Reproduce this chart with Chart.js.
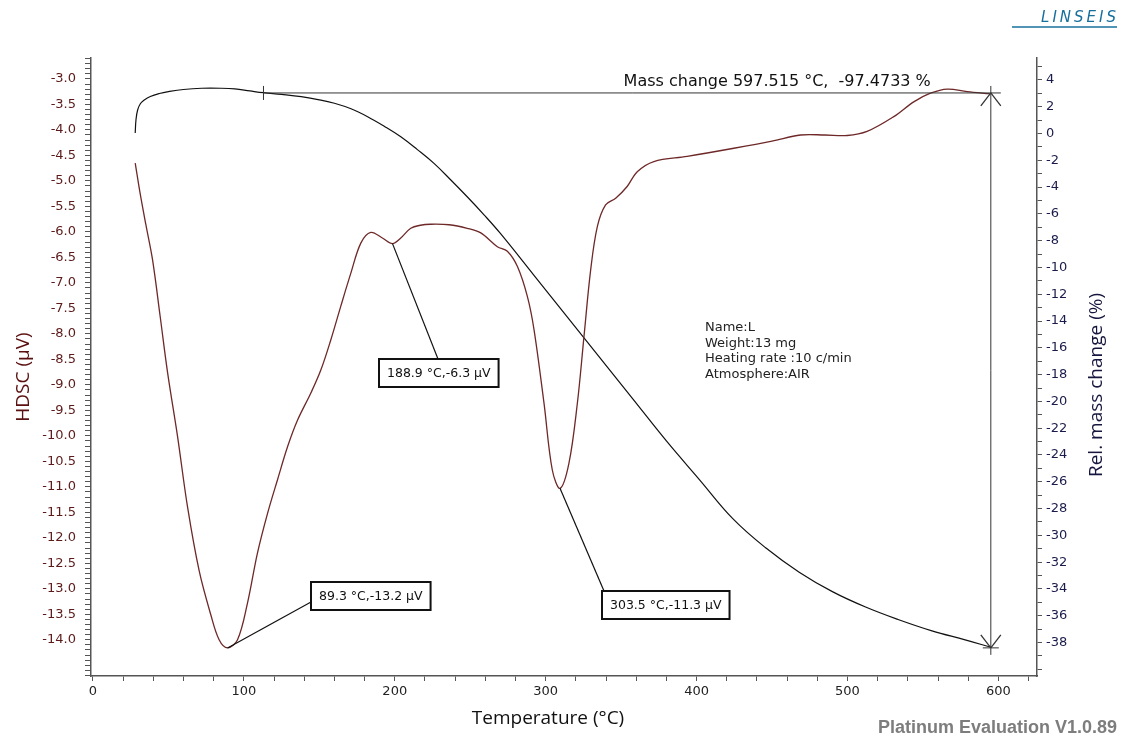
<!DOCTYPE html>
<html>
<head>
<meta charset="utf-8">
<title>HDSC / TG</title>
<script src="https://cdn.jsdelivr.net/npm/chart.js@4.4.1/dist/chart.umd.min.js"></script>
<style>
    html, body { margin: 0; padding: 0; background: #fff; }
    #wrap { width: 1121px; height: 737px; }
</style>
</head>
<body>
<div id="wrap"><canvas id="thermoChart" width="1121" height="737"></canvas></div>
<script>
// HDSC signal (µV) against temperature (°C)
const dscTemp = [28, 31, 35, 39.5, 44.5, 49.5, 56, 62.7, 70.4, 78,
    83.6, 89.2, 95.8, 102.4, 109, 115.7, 122.3, 129, 135.6, 144.4,
    151, 157.6, 164.2, 170.9, 177.5, 184.1, 191.8, 198.5, 204, 210.6,
    217, 223.8, 236, 248, 257, 268, 274.6, 281.3, 287.9, 292.3,
    298.9, 304.4, 309.5, 315.4, 321, 325.4, 329.8, 334.2, 339.7, 346.4,
    354, 360.7, 371.7, 393.8, 424.7, 450, 468.9, 485, 499.8, 513,
    530.7, 543.9, 555, 566.2, 579.3, 594.2];
const dscSignal = [-4.65, -5.2, -5.85, -6.55, -7.65, -8.77, -10.0, -11.4, -12.65, -13.5,
    -14.0, -14.16, -14.0, -13.28, -12.3, -11.52, -10.86, -10.21, -9.69, -9.16,
    -8.71, -8.12, -7.46, -6.81, -6.22, -6.01, -6.12, -6.23, -6.12, -5.93,
    -5.87, -5.85, -5.86, -5.93, -6.02, -6.29, -6.38, -6.68, -7.27, -7.92,
    -9.36, -10.67, -11.03, -10.54, -9.36, -8.05, -6.75, -5.9, -5.47, -5.34,
    -5.11, -4.82, -4.62, -4.52, -4.36, -4.22, -4.1, -4.1, -4.11, -4.03,
    -3.74, -3.45, -3.28, -3.2, -3.25, -3.29];

// relative mass change (%) against temperature (°C)
const tgTemp = [28, 28.5, 29.6, 31.5, 34, 38, 44, 50, 60, 72,
    85, 94, 104, 113, 125, 138, 150, 160, 171, 182,
    193, 204, 215, 226, 237, 248, 259, 270, 292, 314,
    336, 358, 380, 402, 424, 446, 468, 490, 512, 534,
    556, 578, 595];
const tgMass = [0.04, 1.01, 1.76, 2.24, 2.51, 2.77, 2.99, 3.13, 3.29, 3.38,
    3.38, 3.33, 3.18, 3.05, 2.92, 2.75, 2.52, 2.26, 1.85, 1.26,
    0.55, -0.24, -1.2, -2.23, -3.45, -4.72, -6.05, -7.46, -10.55, -13.65,
    -16.75, -19.85, -22.95, -25.85, -28.75, -30.95, -32.75, -34.2, -35.35, -36.3,
    -37.13, -37.8, -38.35];

// labelled ticks
const tempTickLabels = [0, 100, 200, 300, 400, 500, 600];
const hdscTickLabels = [-3.0, -3.5, -4.0, -4.5, -5.0, -5.5, -6.0, -6.5, -7.0, -7.5, -8.0, -8.5,
    -9.0, -9.5, -10.0, -10.5, -11.0, -11.5, -12.0, -12.5, -13.0, -13.5, -14.0];
const massTickLabels = [4, 2, 0, -2, -4, -6, -8, -10, -12, -14, -16, -18, -20,
    -22, -24, -26, -28, -30, -32, -34, -36, -38];

// evaluated peaks
const peakTemps = [89.2, 198.5, 309.5];
const peakSignals = [-14.16, -6.23, -11.03];
const peakLabels = ['89.3 °C,-13.2 µV', '188.9 °C,-6.3 µV', '303.5 °C,-11.3 µV'];

// mass change step
const stepTemps = [113, 595];
const stepMass = [3.03, -38.4];
const stepLabel = 'Mass change 597.515 °C,  -97.4733 %';

const sampleInfo = ['Name:L', 'Weight:13 mg', 'Heating rate :10 c/min', 'Atmosphere:AIR'];

function labelIf(list, digits) {
    return function (value) {
        const hit = list.find(v => Math.abs(v - value) < 1e-6);
        return hit === undefined ? '' : hit.toFixed(digits);
    };
}

function seg(ctx, ax, ay, bx, by) {
    ctx.beginPath();
    ctx.moveTo(ax, ay);
    ctx.lineTo(bx, by);
    ctx.stroke();
}

const overlay = {
    id: 'overlay',
    afterDatasetsDraw(chart) {
        const { ctx } = chart;
        const x = chart.scales.x;
        const y = chart.scales.y;
        const y2 = chart.scales.y2;
        ctx.save();

        // mass change step with arrows
        const sx0 = x.getPixelForValue(stepTemps[0]);
        const sx1 = x.getPixelForValue(stepTemps[1]);
        const sTop = y2.getPixelForValue(stepMass[0]);
        const sBot = y2.getPixelForValue(stepMass[1]);
        ctx.strokeStyle = '#333';
        ctx.lineWidth = 1;
        seg(ctx, sx0, sTop, sx1 + 10, sTop);
        seg(ctx, sx0, sTop - 7, sx0, sTop + 7);
        seg(ctx, sx1, sTop - 7, sx1, sBot + 7);
        seg(ctx, sx1 - 8, sBot, sx1 + 8, sBot);
        ctx.lineWidth = 1.3;
        seg(ctx, sx1 - 10, sTop + 13, sx1, sTop);
        seg(ctx, sx1, sTop, sx1 + 10, sTop + 13);
        seg(ctx, sx1 - 10, sBot - 13, sx1, sBot);
        seg(ctx, sx1, sBot, sx1 + 10, sBot - 13);

        ctx.fillStyle = '#111';
        ctx.font = '16px "DejaVu Sans"';
        ctx.textAlign = 'right';
        ctx.textBaseline = 'middle';
        ctx.fillText(stepLabel, sx1 - 60, sTop - 11);

        // peak labels
        const boxes = [
            { left: 311, mid: 596, ax: 0, ay: 6 },
            { left: 379, mid: 373, ax: 59, ay: -14 },
            { left: 602, mid: 605, ax: 2, ay: -14 }
        ];
        ctx.font = '12.5px "DejaVu Sans"';
        ctx.textAlign = 'left';
        peakLabels.forEach((txt, i) => {
            const b = boxes[i];
            const w = ctx.measureText(txt).width + 16;
            const h = 28;
            const px = x.getPixelForValue(peakTemps[i]);
            const py = y.getPixelForValue(peakSignals[i]);
            ctx.strokeStyle = '#111';
            ctx.lineWidth = 1.2;
            seg(ctx, px, py, b.left + b.ax, b.mid + b.ay);
            ctx.fillStyle = '#fff';
            ctx.fillRect(b.left, b.mid - h / 2, w, h);
            ctx.lineWidth = 2;
            ctx.strokeRect(b.left, b.mid - h / 2, w, h);
            ctx.fillStyle = '#111';
            ctx.fillText(txt, b.left + 8, b.mid + 1);
        });

        // sample info
        ctx.font = '13px "DejaVu Sans"';
        ctx.fillStyle = '#222';
        sampleInfo.forEach((line, i) => {
            ctx.fillText(line, 705, 328 + i * 15.5);
        });

        // axis titles
        ctx.font = '19px "Open Sans"';
        ctx.textAlign = 'center';
        ctx.save();
        ctx.translate(24, 377);
        ctx.rotate(-Math.PI / 2);
        ctx.fillStyle = '#5a1010';
        ctx.fillText('HDSC (µV)', 0, 0);
        ctx.restore();
        ctx.save();
        ctx.translate(1097, 385);
        ctx.rotate(-Math.PI / 2);
        ctx.fillStyle = '#16163f';
        ctx.fillText('Rel. mass change (%)', 0, 0);
        ctx.restore();
        ctx.fillStyle = '#111';
        ctx.fillText('Temperature (°C)', 548, 719);

        // footer and logo
        ctx.font = 'bold 18px "Liberation Sans"';
        ctx.textAlign = 'right';
        ctx.fillStyle = '#7d7d7d';
        ctx.fillText('Platinum Evaluation V1.0.89', 1117, 728);

        ctx.font = 'italic 15px "DejaVu Sans"';
        ctx.fillStyle = '#17709c';
        ctx.letterSpacing = '3px';
        ctx.fillText('LINSEIS', 1119, 18);
        ctx.letterSpacing = '0px';
        ctx.strokeStyle = '#17709c';
        ctx.lineWidth = 1.4;
        seg(ctx, 1012, 27, 1117, 27);

        ctx.restore();
    }
};

const ctx = document.getElementById('thermoChart').getContext('2d');

new Chart(ctx, {
    type: 'line',
    data: {
        datasets: [{
            label: 'HDSC',
            data: dscTemp.map((t, i) => ({ x: t, y: dscSignal[i] })),
            borderColor: '#6e2828',
            borderWidth: 1.3,
            pointRadius: 0,
            tension: 0.35,
            yAxisID: 'y'
        }, {
            label: 'TG',
            data: tgTemp.map((t, i) => ({ x: t, y: tgMass[i] })),
            borderColor: '#111111',
            borderWidth: 1.2,
            pointRadius: 0,
            tension: 0.4,
            yAxisID: 'y2'
        }]
    },
    options: {
        responsive: false,
        animation: false,
        events: [],
        layout: { padding: { top: 58, left: 0, right: 0, bottom: 0 } },
        plugins: {
            legend: { display: false },
            tooltip: { enabled: false }
        },
        scales: {
            x: {
                type: 'linear',
                position: 'bottom',
                min: -1.3,
                max: 625.6,
                afterFit: s => { s.height = 61; },
                border: { color: '#555', width: 1.5 },
                grid: { drawOnChartArea: false, tickLength: 5, color: '#555' },
                ticks: {
                    stepSize: 20,
                    includeBounds: false,
                    autoSkip: false,
                    maxRotation: 0,
                    padding: 3,
                    color: '#222',
                    font: { family: 'DejaVu Sans', size: 13 },
                    callback: labelIf(tempTickLabels, 0)
                }
            },
            y: {
                type: 'linear',
                position: 'left',
                min: -14.71,
                max: -2.59,
                afterFit: s => { s.width = 91; },
                border: { color: '#555', width: 1.5 },
                grid: { drawOnChartArea: false, tickLength: 6, color: '#555' },
                ticks: {
                    stepSize: 0.1,
                    includeBounds: false,
                    autoSkip: false,
                    padding: 9,
                    color: '#5c1a1a',
                    font: { family: 'DejaVu Sans', size: 13 },
                    callback: labelIf(hdscTickLabels, 1)
                }
            },
            y2: {
                type: 'linear',
                position: 'right',
                min: -40.5,
                max: 5.64,
                afterFit: s => { s.width = 84; },
                border: { color: '#555', width: 1.5 },
                grid: { drawOnChartArea: false, tickLength: 5, color: '#555' },
                ticks: {
                    stepSize: 1,
                    includeBounds: false,
                    autoSkip: false,
                    padding: 4,
                    color: '#1b1b4b',
                    font: { family: 'DejaVu Sans', size: 13 },
                    callback: labelIf(massTickLabels, 0)
                }
            }
        }
    },
    plugins: [overlay]
});
</script>
</body>
</html>
